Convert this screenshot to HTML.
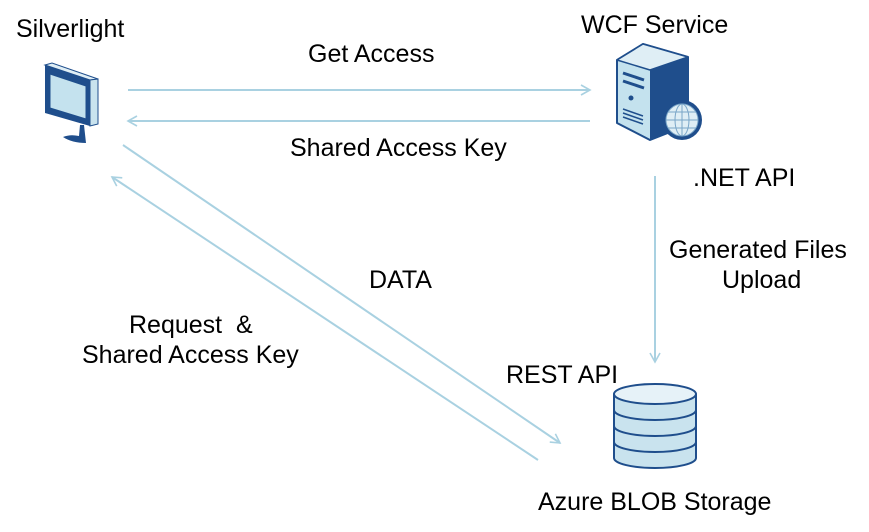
<!DOCTYPE html>
<html><head><style>
body{margin:0;width:869px;height:532px;background:#fff;position:relative;font-family:"Liberation Sans",Arial,sans-serif;overflow:hidden}
.t{position:absolute;font-size:25px;color:#000;white-space:nowrap;line-height:28px}
</style></head><body>
<svg width="869" height="532" style="position:absolute;left:0;top:0">
<defs><marker id="a" markerWidth="12" markerHeight="12" refX="10" refY="6" orient="auto" markerUnits="userSpaceOnUse"><path d="M1,1 L10,6 L1,11" fill="none" stroke="#a9d1e1" stroke-width="1.6"/></marker></defs>
<g stroke="#a9d1e1" stroke-width="2" fill="none">
<line x1="128" y1="90" x2="590" y2="90" marker-end="url(#a)"/>
<line x1="590" y1="121" x2="128" y2="121" marker-end="url(#a)"/>
<line x1="655" y1="176" x2="655" y2="362" marker-end="url(#a)"/>
<line x1="123" y1="145" x2="560" y2="443" marker-end="url(#a)"/>
<line x1="538" y1="460" x2="112" y2="177" marker-end="url(#a)"/>
</g>
<g>
<polygon points="45,65 52,63 98,79 90,80" fill="#dfeef5" stroke="#1f4e8c" stroke-width="1"/>
<polygon points="90,80 98,79 98,124 90,126" fill="#c9e3ee" stroke="#1f4e8c" stroke-width="1"/>
<polygon points="45,65 90,80 90,126 45,113" fill="#1f4e8c"/>
<polygon points="50,74 86,86 86,119 50,108" fill="#c4e2ee" stroke="#1f4e8c"/>
<path d="M80,125 L79,136 Q70,134 63,137 Q72,143 86,143 L84,125Z" fill="#1f4e8c"/>
</g>
<g>
<path d="M617,60 L643,44 L688,57 L688,125 L650,140 L617,123Z" fill="#c4e2ee" stroke="#1f4e8c" stroke-width="2" stroke-linejoin="round"/>
<path d="M617,60 L643,44 L688,57 L650,70Z" fill="#dfeef5" stroke="#1f4e8c" stroke-width="1.5" stroke-linejoin="round"/>
<path d="M650,70 L688,57 L688,125 L650,140Z" fill="#1f4e8c"/>
<line x1="623" y1="73" x2="644" y2="80" stroke="#1f4e8c" stroke-width="3"/>
<line x1="623" y1="81" x2="644" y2="88" stroke="#1f4e8c" stroke-width="3"/>
<circle cx="631" cy="98" r="2.5" fill="#1f4e8c"/>
<line x1="623" y1="109" x2="643" y2="116" stroke="#1f4e8c" stroke-width="1.5"/>
<line x1="623" y1="113" x2="643" y2="120" stroke="#1f4e8c" stroke-width="1.5"/>
<line x1="623" y1="117" x2="643" y2="124" stroke="#1f4e8c" stroke-width="1.5"/>
<circle cx="682" cy="120" r="20" fill="#1f4e8c"/>
<circle cx="682" cy="120" r="16" fill="#dfeef5" stroke="#7aa6c8"/>
<g stroke="#7aa6c8" fill="none"><ellipse cx="682" cy="120" rx="7" ry="16"/><line x1="682" y1="104" x2="682" y2="136"/><line x1="666" y1="120" x2="698" y2="120"/><line x1="668" y1="112" x2="696" y2="112"/><line x1="668" y1="128" x2="696" y2="128"/></g>
</g>
<g stroke="#1f4e8c" stroke-width="2" fill="#c9e3ee">
<path d="M614,394 L614,458 A41,10 0 0 0 696,458 L696,394"/>
<ellipse cx="655" cy="394" rx="41" ry="10" fill="#e6f2f8"/>
<path d="M614,410 A41,10 0 0 0 696,410 M614,426 A41,10 0 0 0 696,426 M614,442 A41,10 0 0 0 696,442" fill="none"/>
</g>
</svg>
<div class="t" style="left:16px;top:15px">Silverlight</div>
<div class="t" style="left:581px;top:11px">WCF Service</div>
<div class="t" style="left:308px;top:40px">Get Access</div>
<div class="t" style="left:290px;top:134px">Shared Access Key</div>
<div class="t" style="left:693px;top:164px">.NET API</div>
<div class="t" style="left:669px;top:236px">Generated Files</div>
<div class="t" style="left:722px;top:266px">Upload</div>
<div class="t" style="left:369px;top:266px">DATA</div>
<div class="t" style="left:129px;top:311px">Request &nbsp;&amp;</div>
<div class="t" style="left:82px;top:341px">Shared Access Key</div>
<div class="t" style="left:506px;top:361px">REST API</div>
<div class="t" style="left:538px;top:488px">Azure BLOB Storage</div>
</body></html>
